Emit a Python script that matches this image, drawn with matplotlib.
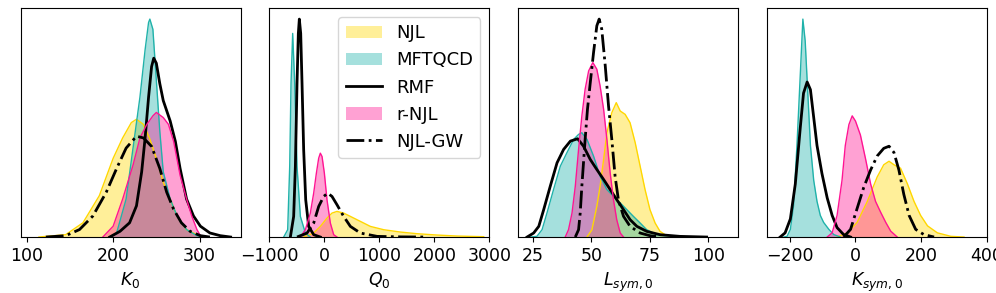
import matplotlib
matplotlib.use("Agg")
import matplotlib.pyplot as plt
from matplotlib.patches import Patch
from matplotlib.lines import Line2D

# densities (arbitrary units, y axis is unlabeled)

# ---- K0 ----
k0_njl_x = [114, 145, 165, 184, 200, 211, 221, 227, 235, 242, 250, 258, 266, 274, 285, 301]
k0_njl_y = [0, 0.07, 0.42, 1.22, 2.32, 2.92, 3.37, 3.47, 3.32, 2.92, 2.32, 1.62, 1.12, 0.62, 0.22, 0.02]
k0_mft_x = [196, 204, 215, 223, 231, 237, 241, 242.5, 246, 250, 254, 258, 266, 274, 285, 297, 305]
k0_mft_y = [0, 0.12, 1.12, 2.62, 4.12, 5.52, 6.32, 6.42, 6.12, 4.62, 3.12, 1.92, 1.12, 0.62, 0.22, 0.04, 0]
k0_rmf_x = [196, 208, 219, 227, 233, 237, 241, 244.5, 247, 250, 254, 258, 266, 272, 277.5, 285, 293, 301, 312, 324, 336]
k0_rmf_y = [0, 0.17, 0.42, 0.92, 1.92, 2.92, 4.12, 5.02, 5.27, 5.12, 4.52, 4.02, 3.42, 2.82, 2.02, 1.12, 0.62, 0.32, 0.12, 0.04, 0]
k0_rnjl_x = [188, 200, 211, 223, 231, 239, 246, 250, 258, 264, 270, 277.5, 285, 291, 297, 301, 305]
k0_rnjl_y = [0, 0.32, 1.12, 2.12, 2.92, 3.32, 3.57, 3.67, 3.52, 3.32, 2.82, 1.82, 1.12, 0.62, 0.22, 0.04, 0]
k0_gw_x = [122, 145, 161, 176.5, 192, 204, 215, 227, 235, 244.5, 254, 262, 270, 279, 289, 301, 312]
k0_gw_y = [0, 0.04, 0.22, 0.62, 1.32, 2.02, 2.62, 2.97, 2.92, 2.67, 2.02, 1.32, 0.82, 0.42, 0.17, 0.04, 0]

# ---- Q0 ----
q0_njl_x = [-376, -194, -73, 48, 139, 230, 351, 473, 655, 836, 1079, 1382, 1685, 2048, 2412, 2897]
q0_njl_y = [0, 0.12, 0.32, 0.57, 0.72, 0.77, 0.72, 0.62, 0.47, 0.32, 0.22, 0.15, 0.10, 0.06, 0.03, 0.01]
q0_mft_x = [-739, -667, -630, -606, -576, -539, -497, -436, -345, -255]
q0_mft_y = [0, 0.22, 2.12, 4.62, 6.12, 4.62, 2.12, 0.62, 0.12, 0]
q0_rmf_x = [-618, -558, -527, -497, -473, -455, -430, -406, -376, -339, -285, -194, -73]
q0_rmf_y = [0, 0.62, 2.12, 4.62, 6.12, 6.55, 6.12, 4.62, 2.62, 1.12, 0.32, 0.07, 0]
q0_rnjl_x = [-436, -345, -255, -194, -145, -103, -73, -42, 0, 48, 109, 170, 230]
q0_rnjl_y = [0, 0.22, 0.72, 1.32, 1.92, 2.37, 2.52, 2.42, 1.92, 1.12, 0.42, 0.07, 0]
q0_gw_x = [-497, -315, -194, -103, -12, 61, 139, 230, 351, 473, 655, 958, 1382, 1806]
q0_gw_y = [0, 0.12, 0.42, 0.92, 1.22, 1.32, 1.22, 0.97, 0.62, 0.32, 0.12, 0.02, 0.005, 0]

# ---- Lsym,0 ----
l_njl_x = [48.2, 50.3, 52.4, 53.8, 55.3, 56.7, 58.8, 60.7, 62.4, 64.5, 66.6, 68.8, 70.9, 73.0, 75.1, 77.3, 79.4, 82.2, 86.5]
l_njl_y = [0, 0.22, 0.92, 1.52, 2.32, 3.12, 3.72, 4.02, 3.77, 3.67, 3.42, 2.82, 2.12, 1.42, 0.82, 0.42, 0.17, 0.04, 0]
l_mft_x = [24.0, 26.8, 29.0, 31.1, 33.9, 36.8, 39.6, 42.5, 44.6, 46.0, 48.2, 51.0, 53.8, 56.7, 59.5, 62.4, 65.2, 68.0, 70.9, 73.7, 78.0, 85.1, 96.4]
l_mft_y = [0, 0.02, 0.22, 0.72, 1.42, 2.12, 2.52, 2.92, 3.07, 3.12, 2.92, 2.42, 1.82, 1.42, 1.22, 1.02, 0.82, 0.62, 0.42, 0.22, 0.07, 0.02, 0]
l_rmf_x = [22.6, 25.4, 27.6, 29.7, 32.5, 35.4, 38.2, 41.1, 44.2, 46.7, 49.6, 52.4, 55.3, 58.1, 60.9, 63.8, 66.6, 69.5, 73.7, 79.4, 87.9, 99.3]
l_rmf_y = [0, 0.12, 0.32, 0.82, 1.52, 2.22, 2.62, 2.87, 2.94, 2.72, 2.32, 2.02, 1.72, 1.42, 1.12, 0.82, 0.52, 0.32, 0.17, 0.07, 0.02, 0]
l_rnjl_x = [38.9, 40.3, 41.8, 43.2, 44.6, 46.0, 47.4, 48.9, 50.7, 52.4, 53.8, 55.3, 56.7, 58.1, 59.5, 60.9, 62.4, 63.8]
l_rnjl_y = [0, 0.22, 0.72, 1.52, 2.62, 3.62, 4.42, 4.97, 5.22, 5.02, 4.52, 3.82, 2.92, 1.92, 1.12, 0.52, 0.12, 0]
l_gw_x = [43.2, 44.6, 45.3, 46.0, 47.4, 48.4, 49.6, 51.0, 52.4, 53.4, 54.5, 56.0, 57.4, 58.8, 60.2, 61.6, 63.8, 66.6, 70.9, 75.1, 79.4]
l_gw_y = [0, 0.22, 0.72, 1.52, 2.92, 3.82, 4.62, 5.52, 6.32, 6.52, 6.22, 5.12, 3.92, 2.92, 1.82, 1.12, 0.62, 0.32, 0.12, 0.04, 0]

# ---- Ksym,0 ----
ks_njl_x = [-56, -25, 5, 36, 66, 86, 102, 117, 137, 158, 178, 198, 219, 249, 290, 330]
ks_njl_y = [0, 0.12, 0.42, 1.02, 1.72, 2.07, 2.17, 2.07, 1.97, 1.52, 1.02, 0.62, 0.32, 0.12, 0.02, 0]
ks_mft_x = [-218, -208, -198, -188, -178, -168, -160, -153, -145, -137, -127, -117, -107, -97, -81, -66, -46]
ks_mft_y = [0, 0.02, 0.22, 0.92, 2.62, 4.62, 6.24, 5.62, 4.12, 2.62, 1.62, 1.02, 0.62, 0.42, 0.22, 0.07, 0]
ks_rmf_x = [-229, -214, -198, -183, -168, -158, -147, -137, -127, -117, -102, -86, -71, -56, -36, -15]
ks_rmf_y = [0, 0.12, 0.52, 1.52, 3.12, 4.12, 4.44, 4.22, 3.42, 2.62, 1.82, 1.12, 0.62, 0.27, 0.07, 0]
ks_rnjl_x = [-86, -71, -56, -41, -31, -20, -10, 0, 15, 31, 46, 61, 76, 92, 107, 127]
ks_rnjl_y = [0, 0.12, 0.62, 1.62, 2.62, 3.22, 3.47, 3.32, 2.92, 2.22, 1.52, 1.02, 0.72, 0.42, 0.17, 0]
ks_gw_x = [-36, -15, 5, 25, 46, 66, 86, 102, 117, 132, 147, 163, 183, 208, 239]
ks_gw_y = [0, 0.22, 0.82, 1.42, 1.92, 2.32, 2.54, 2.60, 2.42, 1.92, 1.22, 0.62, 0.22, 0.07, 0]

xlabels = ["$K_0$", "$Q_0$", "$L_{sym,0}$", "$K_{sym,0}$"]
xlims = [(92.7, 347.5), (-1000, 3000), (18.8, 112.8), (-269, 400)]
xticks = [[100, 200, 300], [-1000, 0, 1000, 2000, 3000], [25, 50, 75, 100], [-200, 0, 200, 400]]

panels = [
    (k0_njl_x, k0_njl_y, k0_mft_x, k0_mft_y, k0_rmf_x, k0_rmf_y, k0_rnjl_x, k0_rnjl_y, k0_gw_x, k0_gw_y),
    (q0_njl_x, q0_njl_y, q0_mft_x, q0_mft_y, q0_rmf_x, q0_rmf_y, q0_rnjl_x, q0_rnjl_y, q0_gw_x, q0_gw_y),
    (l_njl_x, l_njl_y, l_mft_x, l_mft_y, l_rmf_x, l_rmf_y, l_rnjl_x, l_rnjl_y, l_gw_x, l_gw_y),
    (ks_njl_x, ks_njl_y, ks_mft_x, ks_mft_y, ks_rmf_x, ks_rmf_y, ks_rnjl_x, ks_rnjl_y, ks_gw_x, ks_gw_y),
]

c_njl = "gold"
c_mft = "lightseagreen"
c_rnjl = "deeppink"

fig, axes = plt.subplots(1, 4, figsize=(9.96, 2.93), dpi=100)
fig.subplots_adjust(left=0.0206, right=0.991, bottom=0.191, top=0.972, wspace=0.131)

for i, ax in enumerate(axes):
    nx, ny, mx, my, rx, ry, px, py, gx, gy = panels[i]
    ax.fill_between(nx, ny, color=c_njl, alpha=0.4, lw=0)
    ax.plot(nx, ny, color=c_njl, lw=1)
    ax.fill_between(mx, my, color=c_mft, alpha=0.4, lw=0)
    ax.plot(mx, my, color=c_mft, lw=1)
    ax.plot(rx, ry, color="black", lw=2)
    ax.fill_between(px, py, color=c_rnjl, alpha=0.4, lw=0)
    ax.plot(px, py, color=c_rnjl, lw=1)
    ax.plot(gx, gy, color="black", lw=2, ls="-.")
    top = max(max(ny), max(my), max(ry), max(py), max(gy))
    ax.set_ylim(0, top * 1.05)
    ax.set_xlim(*xlims[i])
    ax.set_xticks(xticks[i])
    ax.set_yticks([])
    ax.tick_params(labelsize=12.5)
    ax.set_xlabel(xlabels[i], fontsize=12.5)

handles = [
    Patch(facecolor=c_njl, alpha=0.4, label="NJL"),
    Patch(facecolor=c_mft, alpha=0.4, label="MFTQCD"),
    Line2D([], [], color="black", lw=2, label="RMF"),
    Patch(facecolor=c_rnjl, alpha=0.4, label="r-NJL"),
    Line2D([], [], color="black", lw=2, ls="-.", label="NJL-GW"),
]
axes[1].legend(handles=handles, loc="upper right", fontsize=13)

fig.savefig("out.png", dpi=100)
